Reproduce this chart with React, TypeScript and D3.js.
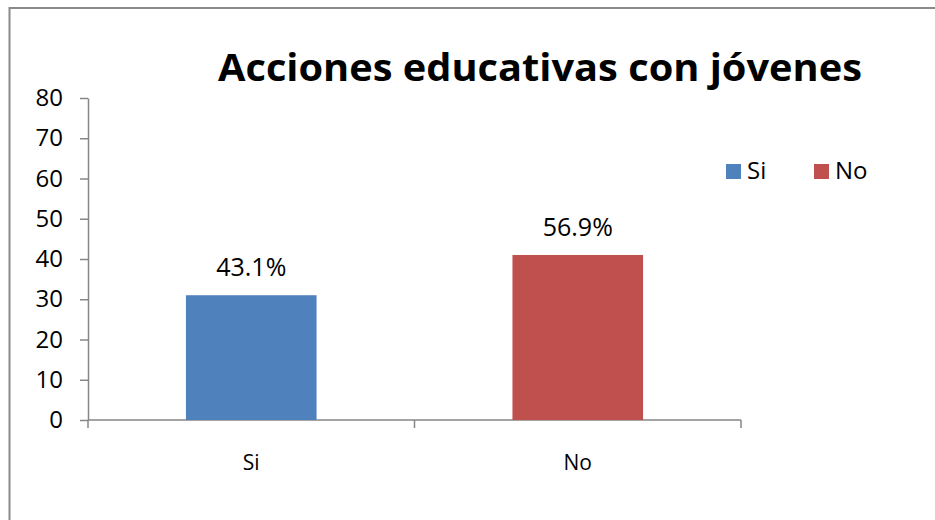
import React, { useEffect, useRef } from 'react';
import * as d3 from 'd3';

const categories = ['Si', 'No'];
const values = [31, 41];
const valueLabels = ['43.1%', '56.9%'];
const colors = ['#4F81BD', '#C0504D'];
const yTicks = [0, 10, 20, 30, 40, 50, 60, 70, 80];
const title = 'Acciones educativas con jóvenes';

const FONT = "'Open Sans', 'Liberation Sans', sans-serif";

export default function App() {
  const ref = useRef<SVGSVGElement | null>(null);
  const width = 935;
  const height = 520;
  const plot = { left: 88, right: 741, top: 98, bottom: 420 };

  useEffect(() => {
    if (!ref.current) return;
    document.documentElement.style.overflow = 'hidden';
    document.body.style.margin = '0';
    const svg = d3.select(ref.current);
    svg.selectAll('*').remove();

    // outer chart border: only the left and top edges fall inside the frame
    svg.append('path')
      .attr('d', `M9.5,${height + 10} V8 H${width + 10}`)
      .attr('fill', 'none')
      .attr('stroke', '#8a8a8a')
      .attr('stroke-width', 2);

    const x = d3.scaleBand<string>()
      .domain(categories)
      .range([plot.left, plot.right])
      .paddingInner(0.6)
      .paddingOuter(0.3);

    const y = d3.scaleLinear()
      .domain([0, 80])
      .range([plot.bottom, plot.top]);

    // title
    svg.append('text')
      .attr('x', 540)
      .attr('y', 81)
      .attr('text-anchor', 'middle')
      .style('font-family', FONT)
      .style('font-weight', 'bold')
      .style('font-size', '38px')
      .attr('textLength', 644)
      .attr('lengthAdjust', 'spacingAndGlyphs')
      .style('fill', '#000')
      .text(title);

    // y axis
    const yAxis = svg.append('g')
      .attr('transform', `translate(${plot.left},0)`)
      .call(d3.axisLeft(y).tickValues(yTicks).tickSize(8).tickPadding(17).tickSizeOuter(0));
    yAxis.select('.domain').attr('stroke', '#868686').attr('stroke-width', 1.5);
    yAxis.selectAll('.tick line').attr('stroke', '#868686').attr('stroke-width', 1.5);
    yAxis.selectAll('.tick text')
      .style('font-family', FONT)
      .style('font-size', '24px')
      .style('fill', '#000');

    // x axis with boundary ticks between categories
    const xAxisG = svg.append('g');
    xAxisG.append('line')
      .attr('x1', plot.left)
      .attr('x2', plot.right)
      .attr('y1', y(0))
      .attr('y2', y(0))
      .attr('stroke', '#868686')
      .attr('stroke-width', 1.5);
    const boundaries = [plot.left, ...categories.map(c => (x(c) as number) + x.bandwidth() + x.step() * 0.3)];
    xAxisG.selectAll('.xtick')
      .data(boundaries)
      .enter()
      .append('line')
      .attr('x1', d => d)
      .attr('x2', d => d)
      .attr('y1', y(0))
      .attr('y2', y(0) + 8)
      .attr('stroke', '#868686')
      .attr('stroke-width', 1.5);

    xAxisG.selectAll('.xlabel')
      .data(categories)
      .enter()
      .append('text')
      .attr('x', d => (x(d) as number) + x.bandwidth() / 2)
      .attr('y', 470)
      .attr('text-anchor', 'middle')
      .style('font-family', FONT)
      .style('font-size', '21px')
      .style('fill', '#000')
      .text(d => d);

    // bars
    svg.selectAll('.bar')
      .data(values)
      .enter()
      .append('rect')
      .attr('x', (d, i) => x(categories[i]) as number)
      .attr('y', d => y(d))
      .attr('width', x.bandwidth())
      .attr('height', d => y(0) - y(d))
      .attr('fill', (d, i) => colors[i]);

    // value labels
    svg.selectAll('.vlabel')
      .data(values)
      .enter()
      .append('text')
      .attr('x', (d, i) => (x(categories[i]) as number) + x.bandwidth() / 2)
      .attr('y', d => y(d) - 19)
      .attr('text-anchor', 'middle')
      .style('font-family', FONT)
      .style('font-size', '25px')
      .style('fill', '#000')
      .text((d, i) => valueLabels[i]);

    // legend
    const legendX = [726, 814];
    const legend = svg.selectAll('.legend-item')
      .data(categories)
      .enter()
      .append('g')
      .attr('transform', (d, i) => `translate(${legendX[i]}, 164)`);
    legend.append('rect')
      .attr('width', 15)
      .attr('height', 15)
      .attr('fill', (d, i) => colors[i]);
    legend.append('text')
      .attr('x', 21)
      .attr('y', 15)
      .style('font-family', FONT)
      .style('font-size', '24px')
      .style('fill', '#000')
      .text(d => d);
  }, []);

  return (
    <svg
      ref={ref}
      width={width}
      height={height}
      style={{ position: 'absolute', left: 0, top: 0, background: '#fff', display: 'block' }}
    />
  );
}
